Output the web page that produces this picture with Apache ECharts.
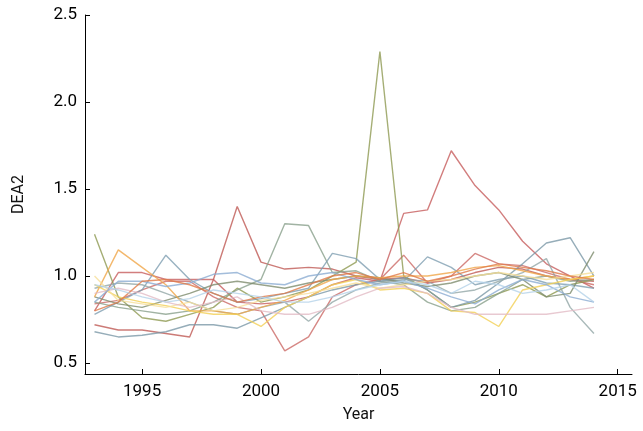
<!DOCTYPE html>
<html>
<head>
<meta charset="utf-8">
<script src="https://cdn.jsdelivr.net/npm/echarts@6/dist/echarts.min.js"></script>
<style>
html,body{margin:0;padding:0;background:#fff;}
#chart{width:643px;height:431px;}
</style>
</head>
<body>
<div id="chart"></div>
<script>
const years = [1993,1994,1995,1996,1997,1998,1999,2000,2001,2002,2003,2004,2005,2006,2007,2008,2009,2010,2011,2012,2013,2014];
const xTicks = [1995,2000,2005,2010,2015];
const yTicks = [0.5,1.0,1.5,2.0,2.5];

const sA = [0.72,0.69,0.69,0.67,0.65,0.98,1.40,1.08,1.04,1.05,1.04,1.00,0.98,0.99,0.96,0.98,1.02,1.05,1.04,1.00,0.98,0.97];
const sB = [0.80,1.02,1.02,0.98,0.98,0.98,0.85,0.84,0.85,0.88,0.95,0.99,0.97,1.36,1.38,1.72,1.52,1.38,1.20,1.07,1.00,0.93];
const sC = [0.84,0.86,0.92,0.97,0.97,0.88,0.82,0.80,0.57,0.65,0.88,0.95,0.98,1.12,0.96,1.00,1.13,1.07,1.06,1.02,0.98,0.95];
const sD = [1.24,0.88,0.76,0.74,0.78,0.82,0.93,0.85,0.88,0.92,1.00,1.08,2.29,1.00,0.92,0.82,0.85,0.90,0.95,0.88,0.95,0.98];
const sE = [0.85,0.82,0.80,0.78,0.80,0.85,0.92,0.98,1.30,1.29,1.02,1.03,0.97,0.95,0.85,0.80,0.82,0.90,0.98,1.00,0.97,0.98];
const sF = [0.78,0.85,0.92,1.12,0.98,0.90,0.85,0.87,0.90,0.93,1.13,1.10,0.98,0.97,1.11,1.05,0.95,0.98,1.00,0.96,0.95,0.93];
const sG = [0.68,0.65,0.66,0.68,0.72,0.72,0.70,0.76,0.82,0.88,0.92,0.95,0.97,0.99,0.92,0.82,0.86,0.96,1.07,1.19,1.22,1.00];
const sH = [0.93,0.96,0.95,0.90,0.85,0.80,0.78,0.82,0.85,0.74,0.85,0.92,0.96,0.98,0.97,0.90,0.92,0.97,1.02,1.10,0.82,0.67];
const sI = [0.88,0.84,0.82,0.86,0.90,0.95,0.97,0.95,0.93,0.96,0.98,1.00,0.99,0.96,0.94,0.96,1.00,1.02,0.98,0.88,0.90,1.14];
const sJ = [0.88,1.15,1.05,0.95,0.80,0.80,0.78,0.82,0.86,0.92,0.98,1.00,0.99,1.00,1.00,1.02,1.05,1.06,1.03,1.00,0.98,1.00];
const sK = [0.95,0.88,0.85,0.83,0.80,0.78,0.78,0.71,0.82,0.88,0.95,0.98,0.92,0.93,0.90,0.80,0.79,0.71,0.92,0.95,0.98,1.00];
const sL = [1.00,0.86,0.84,0.82,0.85,0.80,0.82,0.86,0.88,0.90,0.93,0.96,0.93,0.95,0.97,0.98,1.00,1.02,1.00,0.98,1.00,1.02];
const sM = [0.90,0.93,0.90,0.85,0.82,0.85,0.88,0.80,0.78,0.78,0.82,0.88,0.93,0.94,0.90,0.82,0.78,0.78,0.78,0.78,0.80,0.82];
const sN = [0.85,0.97,0.97,0.94,0.96,1.01,1.02,0.96,0.95,1.00,1.02,0.98,0.95,0.97,0.93,0.88,0.84,0.92,0.98,0.95,0.88,0.85];
const sO = [0.80,0.85,0.97,0.98,0.95,0.90,0.85,0.88,0.90,0.95,1.00,1.02,0.98,1.02,0.97,1.00,1.04,1.07,1.05,1.03,1.00,0.98];
const sP = [0.95,0.92,0.88,0.85,0.87,0.92,0.90,0.88,0.85,0.85,0.88,0.92,0.95,0.97,0.95,0.90,0.97,0.95,0.90,0.92,0.95,0.85];

const seriesData = [sA,sB,sC,sD,sE,sF,sG,sH,sI,sJ,sK,sL,sM,sN,sO,sP];
const colors = ['#bf5a55','#c75e5e','#cc6a66','#8f9a52','#8aa08c','#7f9fb2','#7c98a8','#93a8a8','#7e8c6e','#f0a648','#f3cf55','#f6df98','#e2bcc6','#8cacd2','#e07a48','#b4d2e8'];

const chart = echarts.init(document.getElementById('chart'), null, {renderer:'canvas'});
const font = 'Roboto';
chart.setOption({
  animation:false,
  backgroundColor:'#ffffff',
  grid:{left:85, top:15, right:11, bottom:57, containLabel:false},
  xAxis:{
    type:'value', min:1992.6, max:2015.6,
    name:'Year', nameLocation:'middle', nameGap:33,
    nameTextStyle:{fontFamily:font, fontSize:16, color:'#111'},
    axisLine:{show:true, onZero:false, lineStyle:{color:'#000', width:1}},
    axisTick:{show:true, length:5, inside:true, customValues:xTicks, lineStyle:{color:'#000'}},
    axisLabel:{show:true, customValues:xTicks, fontFamily:font, fontSize:17, color:'#000', margin:9, formatter:v=>String(v)},
    splitLine:{show:false}
  },
  yAxis:{
    type:'value', min:0.437, max:2.5,
    name:'DEA2', nameLocation:'middle', nameGap:58, nameRotate:90,
    nameTextStyle:{fontFamily:font, fontSize:16, color:'#111'},
    axisLine:{show:true, onZero:false, lineStyle:{color:'#000', width:1}},
    axisTick:{show:true, length:5, inside:true, customValues:yTicks, lineStyle:{color:'#000'}},
    axisLabel:{show:true, customValues:yTicks, fontFamily:font, fontSize:17, color:'#000', margin:8, formatter:v=>v.toFixed(1)},
    splitLine:{show:false}
  },
  series: seriesData.map((d,i)=>({
    type:'line',
    data: years.map((y,j)=>[y,d[j]]),
    showSymbol:false,
    symbol:'none',
    lineStyle:{color:colors[i], width:1.4, opacity:0.8},
    itemStyle:{color:colors[i]},
    z: 2
  }))
});
</script>
</body>
</html>
